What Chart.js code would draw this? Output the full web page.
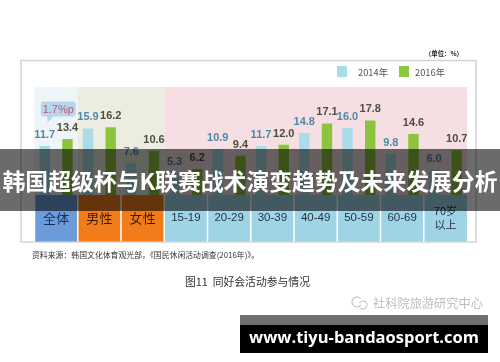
<!DOCTYPE html>
<html>
<head>
<meta charset="utf-8">
<script src="https://cdn.jsdelivr.net/npm/chart.js@4"></script>
<style>
  html, body { margin: 0; padding: 0; background: #ffffff; }
  #wrap { position: relative; width: 500px; height: 362px; overflow: hidden; }
  canvas { display: block; }
</style>
</head>
<body>
<div id="wrap"><canvas id="c" width="500" height="362"></canvas></div>
<script>
// ---- data ----
const categories = ['全体', '男性', '女性', '15-19', '20-29', '30-39', '40-49', '50-59', '60-69', ['70岁', '以上']];
const seriesNames = ['2014年', '2016年'];
const values2014 = [11.7, 15.9, 7.6, 5.3, 10.9, 11.7, 14.8, 16.0, 9.8, 6.0];
const values2016 = [13.4, 16.2, 10.6, 6.2, 9.4, 12.0, 17.1, 17.8, 14.6, 10.7];
const groupOfCategory = [0, 1, 1, 2, 2, 2, 2, 2, 2, 2];
const calloutText = '1.7%p';
const unitText = '（单位：%）';
const sourceText = '资料来源：韩国文化体育观光部，《国民休闲活动调查(2016年)》。';
const captionText = '图11  同好会活动参与情况';
const accountText = '社科院旅游研究中心';
const bannerText = '韩国超级杯与K联赛战术演变趋势及未来发展分析';
const siteText = 'www.tiyu-bandaosport.com';

// ---- styles ----
const barColors = ['#a9dbe8', '#8dc43f'];
const labelColors = ['#4f88a8', '#4e4e3e'];
const panelColors = ['#eff4f8', '#edece1', '#f5dfe2'];
const cellColors = ['#6b9bd8', '#f07d1a', '#f07d1a', '#9fd4e6', '#9fd4e6', '#9fd4e6', '#9fd4e6', '#9fd4e6', '#9fd4e6', '#9fd4e6'];
const cellTextColors = ['#1a2d55', '#3c1c06', '#3c1c06', '#263440', '#263440', '#263440', '#263440', '#263440', '#263440', '#263440'];
const CJK = '"Noto Sans CJK SC", "Noto Sans", sans-serif';
const NUM = '"Liberation Sans Narrow", "Liberation Sans", Arial, sans-serif';

function fitFont(ctx, text, width, weight, family) {
  ctx.font = weight + ' 100px ' + family;
  const w = ctx.measureText(text).width;
  const size = 100 * width / w;
  ctx.font = weight + ' ' + size.toFixed(2) + 'px ' + family;
  return size;
}

const decor = {
  id: 'decor',
  beforeDraw(chart) {
    const ctx = chart.ctx;
    const x = chart.scales.x, a = chart.chartArea;
    ctx.save();
    ctx.fillStyle = '#ffffff';
    ctx.fillRect(0, 0, chart.width, chart.height);
    ctx.strokeStyle = '#d4d4d4';
    ctx.lineWidth = 1.5;
    ctx.strokeRect(21, 60.5, 455, 181.5);
    const half = (x.getPixelForValue(1) - x.getPixelForValue(0)) / 2;
    let start = 0;
    for (let i = 1; i <= categories.length; i++) {
      if (i === categories.length || groupOfCategory[i] !== groupOfCategory[start]) {
        const l = x.getPixelForValue(start) - half;
        const r = x.getPixelForValue(i - 1) + half;
        ctx.fillStyle = panelColors[groupOfCategory[start]];
        ctx.fillRect(l, a.top, r - l, a.bottom - a.top);
        start = i;
      }
    }
    ctx.restore();
  },
  afterDatasetsDraw(chart) {
    const ctx = chart.ctx;
    const x = chart.scales.x, a = chart.chartArea;
    const half = (x.getPixelForValue(1) - x.getPixelForValue(0)) / 2;
    ctx.save();
    // value labels
    ctx.textAlign = 'center';
    ctx.textBaseline = 'alphabetic';
    ctx.font = 'bold 11px ' + NUM;
    chart.data.datasets.forEach((ds, di) => {
      const meta = chart.getDatasetMeta(di);
      ctx.fillStyle = labelColors[di];
      meta.data.forEach((bar, i) => {
        ctx.fillText(ds.data[i].toFixed(1), bar.x, bar.y - 8);
      });
    });
    // category cells (backgrounds first)
    const cellTop = a.bottom, cellBottom = 241.5;
    categories.forEach((c, i) => {
      const l = x.getPixelForValue(i) - half;
      ctx.fillStyle = cellColors[i];
      ctx.fillRect(l, cellTop, half * 2, cellBottom - cellTop);
    });
    ctx.strokeStyle = '#ffffff';
    ctx.lineWidth = 1.5;
    categories.forEach((c, i) => {
      const l = x.getPixelForValue(i) - half;
      ctx.beginPath();
      ctx.moveTo(l, cellTop); ctx.lineTo(l, cellBottom);
      ctx.stroke();
    });
    // cell texts
    ctx.textAlign = 'center';
    ctx.textBaseline = 'middle';
    categories.forEach((c, i) => {
      const cx = x.getPixelForValue(i);
      ctx.fillStyle = cellTextColors[i];
      if (Array.isArray(c)) {
        ctx.font = '11px ' + CJK;
        ctx.fillText(c[0], cx, 211);
        ctx.fillText(c[1], cx, 225);
      } else if (i < 3) {
        ctx.font = '13px ' + CJK;
        ctx.fillText(c, cx, 218);
      } else {
        ctx.font = '11.5px "Liberation Sans", Arial, sans-serif';
        ctx.fillText(c, cx, 218);
      }
    });
    // callout above first category
    const b0 = chart.getDatasetMeta(0).data[0];
    const bx = b0.x - 4, by = 101.5, bw = 35, bh = 15;
    ctx.fillStyle = '#b9d7ea';
    ctx.beginPath();
    ctx.roundRect(bx, by, bw, bh, 3);
    ctx.fill();
    ctx.beginPath();
    ctx.moveTo(bx + 6, by + bh - 0.5);
    ctx.lineTo(bx + 13, by + bh - 0.5);
    ctx.lineTo(bx + 7, by + bh + 6);
    ctx.closePath();
    ctx.fill();
    ctx.fillStyle = '#c0567c';
    ctx.font = '11px "Liberation Sans", Arial, sans-serif';
    ctx.fillText(calloutText, bx + bw / 2, by + bh / 2 + 0.5);
    // legend
    const legendItems = [[337, 358], [399, 415]];
    chart.data.datasets.forEach((ds, di) => {
      ctx.fillStyle = di === 0 ? '#a9dbe8' : '#8dc63f';
      ctx.fillRect(legendItems[di][0], 66, 10, 11);
      ctx.fillStyle = '#555555';
      ctx.textAlign = 'left';
      fitFont(ctx, ds.label, 30, 'normal', CJK);
      ctx.fillText(ds.label, legendItems[di][1], 72);
    });
    // unit
    ctx.fillStyle = '#222222';
    ctx.textAlign = 'left';
    fitFont(ctx, unitText, 38, 'bold', CJK);
    ctx.fillText(unitText, 425, 54);
    // source
    ctx.fillStyle = '#333333';
    fitFont(ctx, sourceText, 227, 'normal', CJK);
    ctx.fillText(sourceText, 32, 255);
    // caption
    fitFont(ctx, captionText, 125, 'normal', CJK);
    ctx.fillText(captionText, 185, 282);
    // account watermark
    ctx.strokeStyle = '#c8c8c8';
    ctx.lineWidth = 1.2;
    ctx.beginPath(); ctx.arc(357, 302, 5, 0.6, 5.5); ctx.stroke();
    ctx.beginPath(); ctx.arc(363, 305, 4, 3.6, 8.6); ctx.stroke();
    ctx.fillStyle = '#bdbdbd';
    fitFont(ctx, accountText, 110, 'normal', CJK);
    ctx.fillText(accountText, 373, 303);
    // dark title banner
    ctx.fillStyle = 'rgba(0,0,0,0.58)';
    ctx.fillRect(0, 149, 500, 62);
    ctx.fillStyle = '#ffffff';
    ctx.textAlign = 'center';
    fitFont(ctx, bannerText, 495, 'bold', CJK);
    ctx.fillText(bannerText, 250, 181);
    // site banner
    ctx.fillStyle = '#707070';
    ctx.fillRect(240, 315, 248, 10);
    ctx.fillStyle = '#000000';
    ctx.fillRect(240, 325, 248, 28);
    ctx.fillStyle = '#ffffff';
    fitFont(ctx, siteText, 230, 'bold', '"Open Sans", "DejaVu Sans", sans-serif');
    ctx.fillText(siteText, 364, 338.5);
    ctx.restore();
  }
};

new Chart(document.getElementById('c'), {
  type: 'bar',
  data: {
    labels: categories,
    datasets: [
      { label: seriesNames[0], data: values2014, backgroundColor: barColors[0] },
      { label: seriesNames[1], data: values2016, backgroundColor: barColors[1] }
    ]
  },
  options: {
    responsive: false,
    animation: false,
    devicePixelRatio: 1,
    layout: { padding: { left: 34.5, right: 33, top: 87, bottom: 167 } },
    datasets: { bar: { categoryPercentage: 1.05, barPercentage: 0.46 } },
    scales: {
      x: { display: false },
      y: { display: false, min: 0, max: 25.8 }
    },
    plugins: { legend: { display: false }, tooltip: { enabled: false } }
  },
  plugins: [decor]
});
</script>
</body>
</html>
